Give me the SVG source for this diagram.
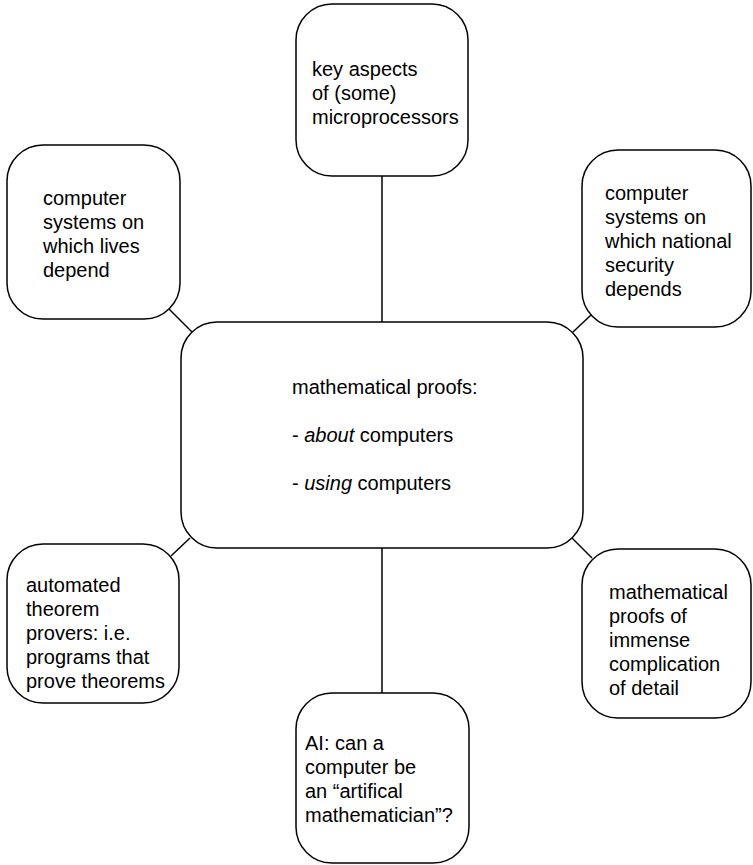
<svg xmlns="http://www.w3.org/2000/svg" width="753" height="865" viewBox="0 0 753 865">
<style>
.box{fill:#fff;stroke:#000;stroke-width:1.5}
.t{font-family:"Liberation Sans",Arial,Helvetica,sans-serif;font-size:20px;fill:#000}
.c{stroke:#000;stroke-width:1.5;fill:none}
</style>
<rect width="753" height="865" fill="#fff"/>
<g id="connectors">
<line class="c" x1="382" y1="176" x2="382" y2="322"/>
<line class="c" x1="382" y1="548" x2="382" y2="693"/>
<line class="c" x1="169" y1="309" x2="192" y2="332"/>
<line class="c" x1="591" y1="315" x2="573" y2="332"/>
<line class="c" x1="190" y1="538" x2="171" y2="556"/>
<line class="c" x1="572" y1="538" x2="592" y2="558"/>
</g>
<g id="center">
<rect class="box" x="181" y="322" width="402" height="226" rx="36"/>
<text class="t" x="292" y="394">mathematical proofs:</text>
<text class="t" x="292" y="442">- <tspan font-style="italic">about</tspan> computers</text>
<text class="t" x="292" y="490">- <tspan font-style="italic">using</tspan> computers</text>
</g>
<g id="top">
<rect class="box" x="296" y="4" width="172" height="172" rx="36"/>
<text class="t" x="312" y="76">key aspects</text>
<text class="t" x="312" y="100">of (some)</text>
<text class="t" x="312" y="124">microprocessors</text>
</g>
<g id="topleft">
<rect class="box" x="7" y="145" width="173" height="174" rx="36"/>
<text class="t" x="43" y="205">computer</text>
<text class="t" x="43" y="229">systems on</text>
<text class="t" x="43" y="253">which lives</text>
<text class="t" x="43" y="277">depend</text>
</g>
<g id="topright">
<rect class="box" x="582" y="150" width="169" height="177" rx="36"/>
<text class="t" x="605" y="200">computer</text>
<text class="t" x="605" y="224">systems on</text>
<text class="t" x="605" y="248">which national</text>
<text class="t" x="605" y="272">security</text>
<text class="t" x="605" y="296">depends</text>
</g>
<g id="bottomleft">
<rect class="box" x="7" y="544" width="172" height="159" rx="36"/>
<text class="t" x="26" y="592">automated</text>
<text class="t" x="26" y="616">theorem</text>
<text class="t" x="26" y="640">provers: i.e.</text>
<text class="t" x="26" y="664">programs that</text>
<text class="t" x="26" y="688">prove theorems</text>
</g>
<g id="bottomright">
<rect class="box" x="582" y="549" width="169" height="169" rx="36"/>
<text class="t" x="609" y="599">mathematical</text>
<text class="t" x="609" y="623">proofs of</text>
<text class="t" x="609" y="647">immense</text>
<text class="t" x="609" y="671">complication</text>
<text class="t" x="609" y="695">of detail</text>
</g>
<g id="bottom">
<rect class="box" x="296" y="693" width="173" height="170" rx="36"/>
<text class="t" x="305" y="750">AI: can a</text>
<text class="t" x="305" y="774">computer be</text>
<text class="t" x="305" y="798">an “artifical</text>
<text class="t" x="305" y="822">mathematician”?</text>
</g>
</svg>
